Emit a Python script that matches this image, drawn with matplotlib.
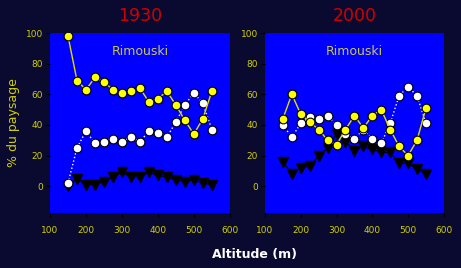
import matplotlib
matplotlib.use('Agg')
import matplotlib.pyplot as plt

altitude = [150, 175, 200, 225, 250, 275, 300, 325, 350, 375, 400, 425, 450, 475, 500, 525, 550]

# 1930
jaune_1930 = [98, 69, 63, 71, 68, 63, 61, 62, 64, 55, 57, 62, 53, 43, 34, 44, 62]
blanc_1930 = [2, 25, 36, 28, 29, 31, 29, 32, 29, 36, 35, 32, 42, 53, 61, 54, 37]
noir_1930 = [0, 5, 1, 1, 3, 6, 9, 6, 6, 9, 7, 6, 4, 3, 4, 2, 1]

# 2000
jaune_2000 = [44, 60, 47, 42, 37, 30, 27, 37, 46, 38, 46, 50, 37, 26, 20, 30, 51]
blanc_2000 = [40, 32, 41, 45, 44, 46, 40, 34, 31, 37, 31, 28, 41, 59, 65, 59, 41]
noir_2000 = [16, 8, 12, 13, 20, 25, 34, 29, 23, 26, 24, 22, 22, 15, 15, 11, 8]

titles = ['1930', '2000']
yticks = [0, 20, 40, 60, 80, 100]
xticks = [100, 200, 300, 400, 500, 600]

bg = '#0a0a30'
tick_col = '#d0d000'

fig = plt.figure(figsize=(4.61, 2.68), dpi=100, facecolor=bg)
ax1 = fig.add_axes([0.1085, 0.2052, 0.390, 0.6716])
ax2 = fig.add_axes([0.5748, 0.2052, 0.388, 0.6716])

panels = [(ax1, jaune_1930, blanc_1930, noir_1930),
          (ax2, jaune_2000, blanc_2000, noir_2000)]

for i, (ax, jaune, blanc, noir) in enumerate(panels):
    ax.set_facecolor('#0000ff')
    ax.plot(altitude, noir, color='black', lw=0.8, marker='v', ms=6.5,
            mfc='black', mec='black', zorder=2)
    ax.plot(altitude, blanc, color='white', lw=1.0, ls=':', marker='o', ms=6.3,
            mfc='white', mec='black', mew=0.8, zorder=3)
    ax.plot(altitude, jaune, color='#e0e000', lw=1.0, marker='o', ms=6.3,
            mfc='#ffff00', mec='black', mew=0.8, zorder=4)
    ax.set_xlim(100, 600)
    ax.set_ylim(-17.5, 100)
    ax.set_xticks(xticks)
    ax.set_yticks(yticks)
    ax.tick_params(colors='black', labelcolor=tick_col, labelsize=6.5,
                   length=3, width=0.8, pad=2)
    for s in ax.spines.values():
        s.set_visible(False)
    ax.text(0.5, 0.9, 'Rimouski', transform=ax.transAxes, ha='center',
            va='center', color='#c8c850', fontsize=9)
    ax.set_title(titles[i], color='#d00000', fontsize=12.5, pad=9)
    for t in ax.get_xticklabels():
        t.set_y(-0.035)

ax1.set_ylabel('% du paysage', color=tick_col, fontsize=9, labelpad=4)
fig.text(0.553, 0.052, 'Altitude (m)', color='white', fontsize=9,
         fontweight='bold', ha='center', va='center')

fig.savefig('out.png', dpi=100, facecolor=bg)
